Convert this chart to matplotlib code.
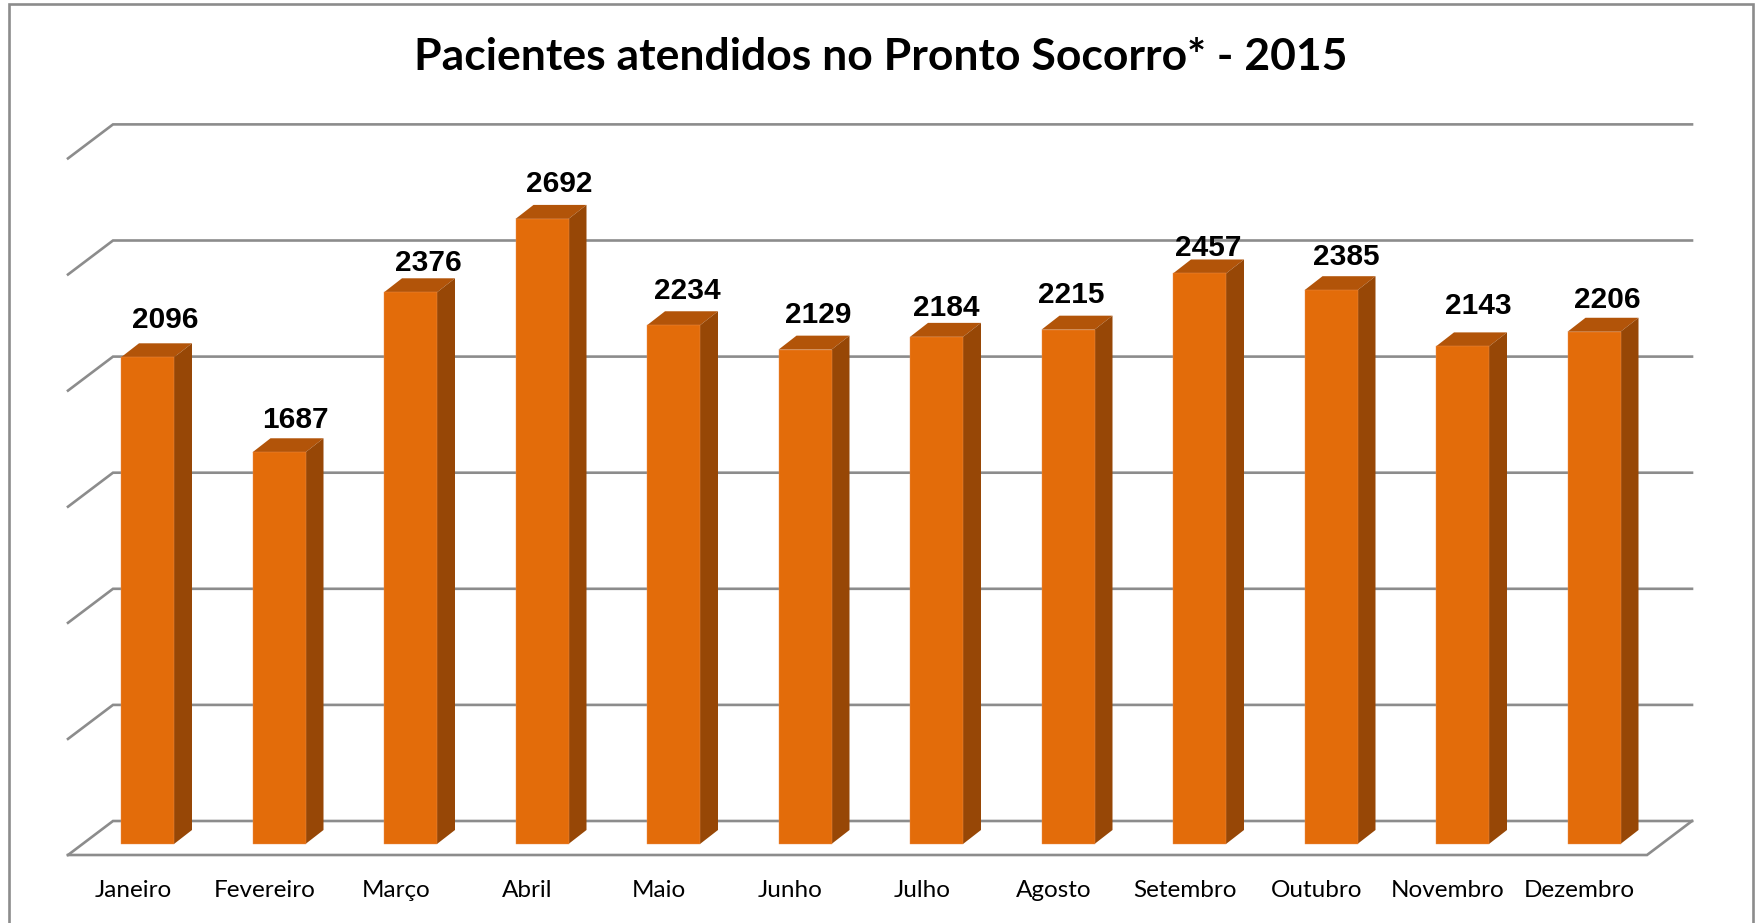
import matplotlib
matplotlib.use("Agg")
import matplotlib.pyplot as plt
import matplotlib.patches as mpatches

meses = ["Janeiro", "Fevereiro", "Março", "Abril", "Maio", "Junho", "Julho",
         "Agosto", "Setembro", "Outubro", "Novembro", "Dezembro"]
pacientes = [2096, 1687, 2376, 2692, 2234, 2129, 2184, 2215, 2457, 2385, 2143, 2206]
grid_vals = [0, 500, 1000, 1500, 2000, 2500, 3000]

# hand placed data labels in the original, offsets in pixels from the bar top
label_dx = [0, -2, 0, -1, -4, -5, -8, -15, -9, -3, -2, -5]
label_dy = [23, 18, 15, 21, 20, 21, 15, 21, 11, 19, 26, 18]

W, H = 1760, 923
x0, step = 147.5, 131.5   # pixel of first bar centre, pixels per category
y0, scale = 844, 0.2322   # pixel of value 0, pixels per patient

GREY = "#8c8c8c"
FRONT, TOP, SIDE = "#E36C0A", "#B25409", "#974706"


def dx(px):
    return px / step


def dy(px):
    return px / scale


fig = plt.figure(figsize=(W / 100, H / 100), dpi=100)
ax = fig.add_axes([0, 0, 1, 1])
ax.set_xlim(-x0 / step, (W - x0) / step)
ax.set_ylim((y0 - H) / scale, y0 / scale)
ax.axis("off")

# grid on the back wall plus the stub going to the front
left_back = dx(113 - x0)
right_back = dx(1692 - x0)
left_front = dx(68 - x0)
for v in grid_vals:
    yb = v + dy(23)
    ax.plot([left_front, left_back, right_back], [yb - dy(34), yb, yb],
            color=GREY, lw=1.9, zorder=1, solid_joinstyle="miter")

# floor
front_y = -dy(11)
ax.plot([left_front, dx(1647 - x0), right_back], [front_y, front_y, dy(23)],
        color=GREY, lw=1.9, zorder=1, solid_joinstyle="miter")

# bars with fake 3d faces
hw = dx(53) / 2
off_x, off_y = dx(18), dy(14)
xs = list(range(len(meses)))
ax.bar(xs, pacientes, width=2 * hw, color=FRONT, edgecolor="#EC9050", linewidth=0.3, zorder=3)
for i, v in zip(xs, pacientes):
    ax.fill([i - hw, i + hw, i + hw + off_x, i - hw + off_x],
            [v, v, v + off_y, v + off_y], color=TOP, lw=0, zorder=2.5)
    ax.fill([i + hw, i + hw + off_x, i + hw + off_x, i + hw],
            [0, off_y, v + off_y, v], color=SIDE, lw=0, zorder=2.5)
    ax.text(i + off_x + dx(label_dx[i]), v + off_y + dy(label_dy[i]), str(v),
            ha="center", va="center", fontsize=21.5, fontweight="bold",
            family="Liberation Sans", color="black", zorder=5)
    ax.text(i - dx(14.5), -dy(53), meses[i], ha="center", va="baseline",
            fontsize=17.5, family="Lato", color="black")

ax.text(dx(881 - x0), dy(y0 - 70), "Pacientes atendidos no Pronto Socorro* - 2015",
        ha="center", va="baseline", fontsize=32, fontweight="bold", family="Lato", color="black")

# outer frame runs off the bottom of the image
frame = mpatches.Rectangle((9 / W, -0.02), (1753 - 9) / W, 1.02 - 4 / H, transform=fig.transFigure,
                           fill=False, edgecolor=GREY, lw=1.9)
fig.add_artist(frame)

plt.savefig("out.png", dpi=100)
